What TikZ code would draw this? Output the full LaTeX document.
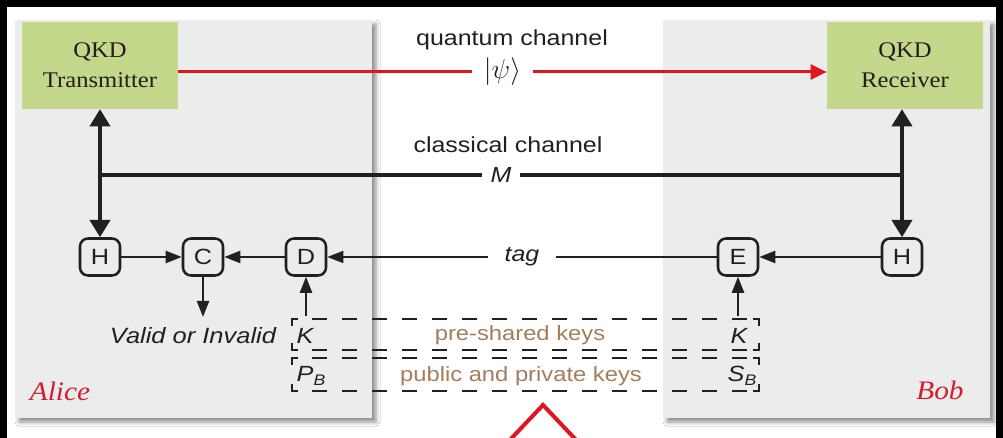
\documentclass[tikz,border=0pt]{standalone}
\usepackage{fontspec}
\setmainfont{Liberation Serif}[FakeStretch=1.1]
\setsansfont{Liberation Sans}[FakeStretch=1.15]
\usetikzlibrary{arrows.meta,shadows.blur}
\definecolor{panel}{HTML}{EBECEC}
\definecolor{qkdgreen}{HTML}{C3D88B}
\definecolor{keybrown}{HTML}{A57D5A}
\definecolor{alred}{HTML}{D81B2E}
\definecolor{qred}{HTML}{E2141F}
\definecolor{ink}{HTML}{231F20}
\begin{document}
\begin{tikzpicture}[x=0.75pt,y=-0.75pt,
  panelbox/.style={fill=panel, blur shadow={shadow xshift=3pt, shadow yshift=-3pt, shadow blur radius=3pt, shadow opacity=45}},
  qkd/.style={fill=qkdgreen, minimum width=117pt, minimum height=65pt, align=center, inner sep=0pt, font=\fontsize{16.8}{22.5}\selectfont, text=ink},
  sbox/.style={draw=ink, line width=1.9pt, rounded corners=6pt, minimum width=30pt, minimum height=27.75pt, inner sep=0pt, font=\sffamily\fontsize{16.5}{16}\selectfont, text=ink},
  bigarrow/.style={draw=ink, line width=3pt, {Triangle[length=13pt,width=15pt]}-{Triangle[length=13pt,width=15pt]}},
  bus/.style={draw=ink, line width=3pt},
  qarrow/.style={draw=qred, line width=2.25pt, -{Triangle[length=12pt,width=11pt]}},
  midarrow/.style={draw=ink, line width=1.8pt, -{Triangle[length=12pt,width=9pt]}},
  tagline/.style={draw=ink, line width=1.2pt, -{Triangle[length=12pt,width=9pt]}},
  chlabel/.style={font=\sffamily\fontsize{16.3}{18}\selectfont, text=ink},
  keylabel/.style={font=\sffamily\fontsize{15.5}{17}\selectfont, text=keybrown},
  keyname/.style={font=\sffamily\itshape\fontsize{16.5}{17}\selectfont, text=ink},
  keydash/.style={draw=ink, line width=1.3pt, dash pattern=on 11.25pt off 11.25pt, dash phase=7.5pt},
  keycorner/.style={draw=ink, line width=1.3pt},
  who/.style={font=\itshape\fontsize{20}{22}\selectfont, text=alred}
]
\useasboundingbox (0,0) rectangle (1003,438);
\fill[black] (0,0) rectangle (1003,438);
\fill[white] (7,7) rectangle (996,440);

% panels
\path[panelbox] (15,20) rectangle (372,418);
\path[panelbox] (663,20) rectangle (990,418);

% QKD boxes
\node[qkd] (tx) at (100,65.5) {QKD\\Transmitter};
\node[qkd] (rx) at (905,65.5) {QKD\\Receiver};

% small boxes
\node[sbox] (hl) at (100,257) {H};
\node[sbox] (c)  at (203,257) {C};
\node[sbox] (d)  at (306,257) {D};
\node[sbox] (e)  at (738,257) {E};
\node[sbox] (hr) at (902,257) {H};

% quantum channel
\node[chlabel] (qlab) at (512,40) {quantum channel};
\draw[qarrow] (tx.east |- 0,72) -- node[fill=white, minimum width=46pt, inner ysep=1pt, text=ink, font=\fontsize{22}{24}\selectfont] (psi) {$|\psi\rangle$} (rx.west |- 0,72);

% classical channel
\node[chlabel] (clab) at (508,145) {classical channel};
\draw[bigarrow] (tx.south) -- (hl.north);
\draw[bigarrow] (rx.south -| hr.north) -- (hr.north);
\draw[bus] (hl.north |- 0,175) -- node[fill=white, minimum width=29pt, inner ysep=1pt, font=\sffamily\itshape\fontsize{16.3}{18}\selectfont, text=ink] (m) {M} (hr.north |- 0,175);

% row of operations
\draw[midarrow] (hl.east) -- (c.west);
\draw[midarrow] (d.west) -- (c.east);
\draw[midarrow] (hr.west) -- (e.east);
\draw[tagline] (e.west) -- node[fill=white, minimum width=51pt, inner ysep=1pt, font=\sffamily\itshape\fontsize{16.3}{18}\selectfont, text=ink] (tag) {tag} (d.east);

% valid or invalid
\node[font=\sffamily\itshape\fontsize{16.6}{18}\selectfont, text=ink] (valid) at (193,336) {Valid or Invalid};
\coordinate (vtop) at (203,317);
\draw[midarrow] (c.south) -- (vtop);

% keys
\coordinate (kdl) at (306,316);
\coordinate (kdr) at (738,316);
\draw[midarrow] (kdl) -- (d.south);
\draw[midarrow] (kdr) -- (e.south);

% dashed key boxes
\draw[keydash] (292,319) -- (759,319);
\draw[keydash] (292,350) -- (759,350);
\draw[keydash] (292,358) -- (759,358);
\draw[keydash] (292,391) -- (759,391);
\foreach \ya/\yb in {319/350, 358/391}{
  \draw[keycorner] (298,\ya) -- (292,\ya) -- (292,\ya+7);
  \draw[keycorner] (298,\yb) -- (292,\yb) -- (292,\yb-7);
  \draw[keycorner] (753,\ya) -- (759,\ya) -- (759,\ya+7);
  \draw[keycorner] (753,\yb) -- (759,\yb) -- (759,\yb-7);
}
\node[keyname] (kl) at (305,336) {K};
\node[keyname] (pb) at (311,376) {P\raisebox{-0.35ex}{\fontsize{11.5}{12}\selectfont B}};
\node[keyname] (kr) at (739,336) {K};
\node[keyname] (sb) at (742,376) {S\raisebox{-0.35ex}{\fontsize{11.5}{12}\selectfont B}};
\node[keylabel] (psk) at (520,335) {pre-shared keys};
\node[keylabel] (ppk) at (521,376) {public and private keys};

% names
\node[who] (alice) at (60,391) {Alice};
\node[who] (bob) at (940,390) {Bob};

% red marker at bottom
\draw[qred, line width=3pt, miter limit=10] (508,442) -- (543,405) -- (578,442);
\end{tikzpicture}
\end{document}
